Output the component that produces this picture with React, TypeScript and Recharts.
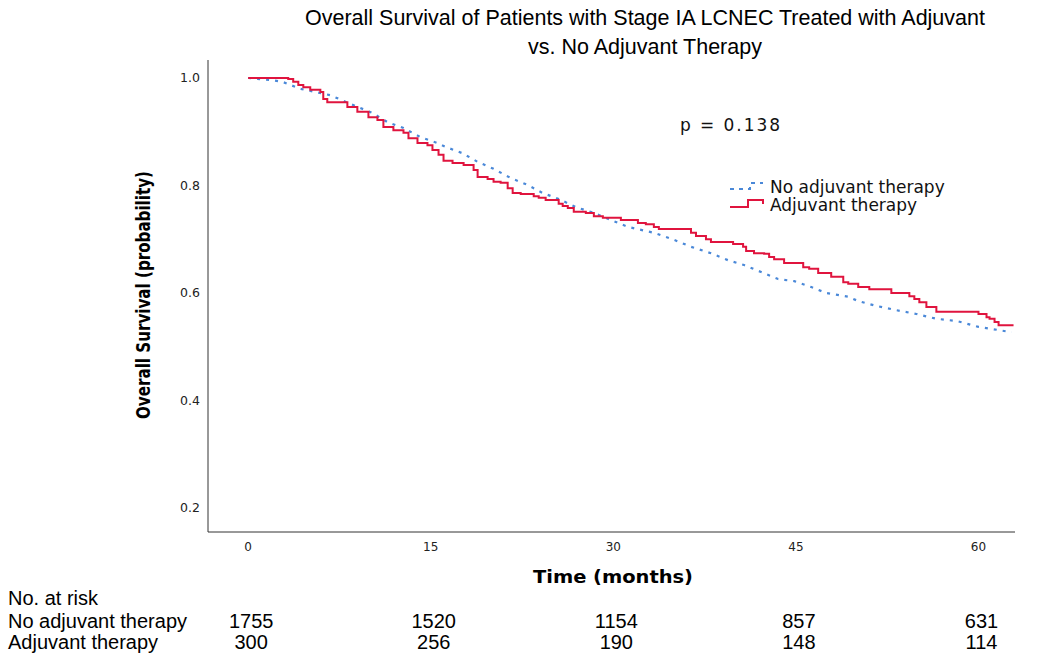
import React from 'react';
import { LineChart, Line, XAxis, YAxis, Legend } from 'recharts';

// ---- data ----
const xTicks = [0, 15, 30, 45, 60];
const yTicks = [0.2, 0.4, 0.6, 0.8, 1.0];
const riskNoAdjuvant = [1755, 1520, 1154, 857, 631];
const riskAdjuvant = [300, 256, 190, 148, 114];

const adjuvantTime = [
  0, 3.29, 3.7, 4.12, 4.53, 5.1, 5.93, 6.17, 6.5, 8.15, 8.97, 9.88, 10.62, 11.11, 11.93, 12.76,
  13.17, 13.91, 14.73, 15.14, 15.64, 16.05, 16.79, 17.7, 18.52, 18.85, 19.67, 20.16, 20.74, 21.32,
  21.73, 22.39, 23.46, 23.87, 24.44, 25.51, 25.84, 26.26, 26.75, 27.74, 28.4, 29.14, 30.62, 32.02,
  32.67, 33.33, 33.74, 36.38, 36.79, 37.61, 38.02, 39.84, 40.66, 40.91, 41.56, 42.39, 42.8, 43.21,
  44.03, 45.6, 46.09, 46.83, 47.9, 48.89, 49.3, 50.12, 51.03, 52.84, 54.32, 54.73, 55.14, 55.72,
  56.54, 60.0, 60.66, 60.91, 61.32, 61.65, 62.88,
];
const adjuvantSurv = [
  1.0, 0.998, 0.993, 0.987, 0.983, 0.978, 0.974, 0.961, 0.955, 0.946, 0.937, 0.927, 0.922, 0.909,
  0.903, 0.898, 0.888, 0.879, 0.875, 0.866, 0.857, 0.846, 0.842, 0.838, 0.829, 0.816, 0.812, 0.807,
  0.805, 0.795, 0.786, 0.784, 0.78, 0.777, 0.773, 0.766, 0.762, 0.758, 0.751, 0.749, 0.743, 0.74,
  0.736, 0.73, 0.728, 0.723, 0.719, 0.712, 0.706, 0.7, 0.695, 0.691, 0.686, 0.678, 0.674, 0.673,
  0.667, 0.663, 0.656, 0.648, 0.645, 0.637, 0.63, 0.62, 0.617, 0.611, 0.607, 0.6, 0.594, 0.589,
  0.583, 0.574, 0.565, 0.561, 0.555, 0.552, 0.546, 0.54, 0.54,
];

const noAdjuvantTime = [
  0, 1.98, 2.8, 4.28, 6.75, 8.81, 10.21, 11.44, 12.76, 14.16, 15.56, 16.21, 17.61, 18.85, 20.16,
  21.56, 22.96, 24.2, 25.51, 26.91, 28.4, 29.79, 31.19, 33.33, 34.98, 36.38, 38.02, 39.42, 40.74,
  42.14, 43.54, 44.86, 46.26, 47.49, 49.3, 50.12, 51.6, 53.25, 54.9, 56.54, 58.19, 60.0, 61.65, 62.72,
];
const noAdjuvantSurv = [
  1.0, 0.996, 0.993, 0.98, 0.968, 0.948, 0.935, 0.918, 0.907, 0.89, 0.879, 0.872, 0.86, 0.844, 0.831,
  0.814, 0.801, 0.786, 0.775, 0.76, 0.749, 0.736, 0.723, 0.712, 0.699, 0.686, 0.674, 0.661, 0.652,
  0.639, 0.626, 0.622, 0.611, 0.6, 0.593, 0.585, 0.576, 0.568, 0.561, 0.552, 0.548, 0.537, 0.531, 0.527,
];

const adjuvantData = adjuvantTime.map((t, i) => ({ t, s: adjuvantSurv[i] }));
const noAdjuvantData = noAdjuvantTime.map((t, i) => ({ t, s: noAdjuvantSurv[i] }));

const RED = '#e0143e';
const BLUE = '#4a88d8';
const SANS = "'DejaVu Sans', Verdana, sans-serif";
const ARIAL = "'Liberation Sans', Arial, sans-serif";

const XTick = (props: any) => {
  const { x, y, payload } = props;
  const i = xTicks.indexOf(payload.value);
  return (
    <g>
      <text x={x} y={y} dy="0.71em" textAnchor="middle" fontSize={12} fontFamily={SANS} fill="#222">
        {payload.value}
      </text>
      <text x={x + 3} y={621} dominantBaseline="central" textAnchor="middle" fontSize={20} fontFamily={ARIAL} fill="#000">
        {riskNoAdjuvant[i]}
      </text>
      <text x={x + 3} y={642} dominantBaseline="central" textAnchor="middle" fontSize={20} fontFamily={ARIAL} fill="#000">
        {riskAdjuvant[i]}
      </text>
    </g>
  );
};

const renderLegend = () => (
  <svg width={250} height={44} style={{ display: 'block', overflow: 'visible' }}>
    <polyline points="4,14 24,14 24,8 37,8" fill="none" stroke={BLUE} strokeWidth={2} strokeDasharray="4 5" />
    <text x={44} y={12} dominantBaseline="central" fontSize={17} fontFamily={SANS} fill="#111">
      No adjuvant therapy
    </text>
    <polyline points="4,32 22,32 22,25 37,25 37,29" fill="none" stroke={RED} strokeWidth={2} />
    <text x={44} y={30} dominantBaseline="central" fontSize={17} fontFamily={SANS} fill="#111">
      Adjuvant therapy
    </text>
  </svg>
);

export default function App() {
  return (
    <div style={{ position: 'absolute', left: 0, top: 0, width: 1050, height: 662, background: '#fff' }}>
      <LineChart width={1050} height={662} margin={{ top: 60, right: 35, bottom: 0, left: 0 }}>
        <XAxis
          dataKey="t"
          type="number"
          domain={[-3.3, 63.0]}
          ticks={xTicks}
          interval={0}
          allowDataOverflow
          tickLine={false}
          tickMargin={4}
          height={130}
          stroke="#333"
          tick={<XTick />}
        />
        <YAxis
          dataKey="s"
          type="number"
          domain={[0.1553, 1.0335]}
          ticks={yTicks}
          interval={0}
          allowDataOverflow
          tickLine={false}
          tickMargin={2}
          width={208}
          stroke="#333"
          tick={{ fontSize: 12.5, fontFamily: SANS, fill: '#222' }}
          tickFormatter={(v: number) => v.toFixed(1)}
        />
        <Legend
          layout="vertical"
          align="center"
          verticalAlign="middle"
          content={renderLegend}
          wrapperStyle={{ left: 726, top: 175, width: 250, height: 44 }}
        />
        <Line
          data={noAdjuvantData}
          dataKey="s"
          name="No adjuvant therapy"
          type="linear"
          stroke={BLUE}
          strokeWidth={2.2}
          strokeDasharray="3 6"
          dot={false}
          activeDot={false}
          isAnimationActive={false}
        />
        <Line
          data={adjuvantData}
          dataKey="s"
          name="Adjuvant therapy"
          type="stepAfter"
          stroke={RED}
          strokeWidth={2}
          dot={false}
          activeDot={false}
          isAnimationActive={false}
        />
      </LineChart>
      <svg
        width={1050}
        height={662}
        style={{ position: 'absolute', left: 0, top: 0, pointerEvents: 'none' }}
      >
        <text x={645} y={18} textAnchor="middle" dominantBaseline="central" fontSize={21.5} fontFamily={ARIAL} fill="#000">
          Overall Survival of Patients with Stage IA LCNEC Treated with Adjuvant
        </text>
        <text x={645} y={47} textAnchor="middle" dominantBaseline="central" fontSize={21.5} fontFamily={ARIAL} fill="#000">
          vs. No Adjuvant Therapy
        </text>
        <text x={680} y={125} dominantBaseline="central" fontSize={17} fontFamily={SANS} fill="#111" textLength={100} lengthAdjust="spacing">
          p = 0.138
        </text>
        <text
          x={143}
          y={295}
          transform="rotate(-90 143 295)"
          textAnchor="middle"
          dominantBaseline="central"
          fontSize={19}
          fontWeight="bold"
          fontFamily={SANS}
          fill="#000"
          textLength={248}
          lengthAdjust="spacingAndGlyphs"
        >
          Overall Survival (probability)
        </text>
        <text
          x={613}
          y={576}
          textAnchor="middle"
          dominantBaseline="central"
          fontSize={18}
          fontWeight="bold"
          fontFamily={SANS}
          fill="#000"
          textLength={160}
          lengthAdjust="spacingAndGlyphs"
        >
          Time (months)
        </text>
        <text x={8} y={598} dominantBaseline="central" fontSize={20} fontFamily={ARIAL} fill="#000">
          No. at risk
        </text>
        <text x={8} y={621} dominantBaseline="central" fontSize={20} fontFamily={ARIAL} fill="#000">
          No adjuvant therapy
        </text>
        <text x={8} y={642} dominantBaseline="central" fontSize={20} fontFamily={ARIAL} fill="#000">
          Adjuvant therapy
        </text>
      </svg>
    </div>
  );
}
